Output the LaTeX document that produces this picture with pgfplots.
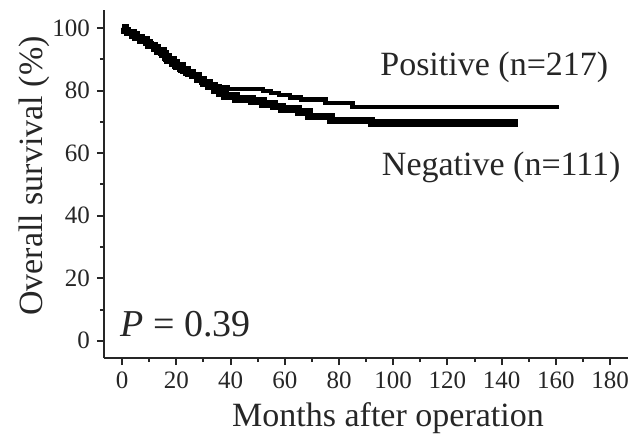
\documentclass[border=0pt]{standalone}
\usepackage{fontspec}
\setmainfont{Liberation Serif}
\usepackage{pgfplots}
\pgfplotsset{compat=1.18}
\begin{document}
\begin{tikzpicture}
\begin{axis}[
  scale only axis, width=262pt, height=174pt,
  xmin=-6.7, xmax=186.6, ymin=-5.5, ymax=105.8,
  axis x line=bottom, axis y line=left,
  axis line style={-, line width=1pt, black!85},
  xtick={0,20,...,180}, minor x tick num=1,
  ytick={0,20,...,100}, minor y tick num=1,
  tick align=outside, major tick length=3.5pt, minor tick length=2pt,
  every tick/.style={black!85, line width=1pt},
  tick label style={font=\fontsize{12.5}{14}\selectfont, text=black!85},
  /pgf/number format/assume math mode=true,
  xlabel={Months after operation}, ylabel={Overall survival (\%)},
  label style={font=\fontsize{17}{20}\selectfont, text=black!85},
  xlabel style={at={(axis description cs:0.542,-0.198)}, anchor=base},
  ylabel style={at={(axis description cs:-0.1183,0.523)}, anchor=base},
  clip=false,
]
% Negative (n=111)
\addplot[const plot, black, line width=3.8pt] table {
x y
0 100
1 99.3
2 98.6
4 97.8
5 97.0
7 96.2
9 95.4
10 94.5
12 93.6
13 92.7
15 91.8
16 90.8
17 89.8
19 88.8
20 87.8
22 86.8
24 85.8
26 84.8
28 83.6
30 82.5
32 81.4
34 80.2
36 79.3
38 78.3
42 77.4
48 76.6
52 75.8
56 74.9
59 74.2
65 73.2
69 71.8
77 70.4
92 69.6
146 69.6
};
% Positive (n=217)
\addplot[const plot, black, line width=2.1pt] table {
x y
0 100
1 99.5
2 99.0
3 98.2
5 97.5
6 96.8
8 96.0
9 95.3
11 94.5
12 93.5
13 92.7
14 91.8
15 91.0
16 90.0
17 89.2
18 88.2
19 87.5
21 86.8
22 86.0
24 85.2
26 84.3
28 83.5
29 82.6
31 82.0
33 81.5
36 81.0
39 80.5
52 80.0
55 79.2
58 78.5
62 77.8
66 77.2
75 76.0
85 74.8
161 74.8
};
\node[anchor=base west, font=\fontsize{17}{20}\selectfont, text=black!85, inner sep=0pt] at (axis cs:95.1,85) {Positive (n=217)};
\node[anchor=base west, font=\fontsize{17}{20}\selectfont, text=black!85, inner sep=0pt] at (axis cs:95.7,53) {Negative (n=111)};
\node[anchor=base west, font=\fontsize{19}{22}\selectfont, text=black!85, inner sep=0pt] at (axis cs:-0.8,1.5) {\textit{P} = 0.39};
\coordinate (sw) at (rel axis cs:0,0);
\coordinate (ne) at (rel axis cs:1,1);
\end{axis}
\pgfresetboundingbox
\path ([shift={(-52pt,-40.5pt)}]sw) rectangle ([shift={(7pt,5pt)}]ne);
\end{tikzpicture}
\end{document}
